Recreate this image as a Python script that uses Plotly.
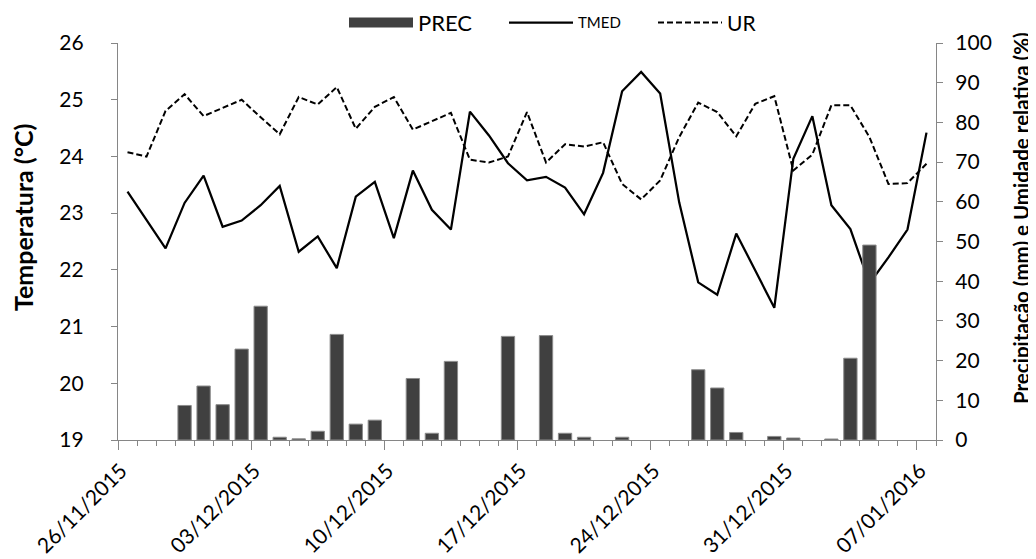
import pandas as pd
import plotly.graph_objects as go

dates = pd.date_range("2015-11-26", "2016-01-07", freq="D")

prec = [0, 0, 0, 8.7, 13.6, 8.9, 22.9, 33.7, 0.7, 0.3,
        2.2, 26.6, 4.0, 5.0, 0, 15.5, 1.7, 19.8, 0, 0,
        26.1, 0, 26.3, 1.7, 0.7, 0, 0.7, 0, 0, 0,
        17.7, 13.1, 1.9, 0, 0.9, 0.5, 0, 0.25, 20.6, 49.1,
        0, 0, 0]

tmed = [23.38, 22.88, 22.38, 23.18, 23.66, 22.76, 22.87, 23.14, 23.48, 22.32,
        22.59, 22.03, 23.29, 23.55, 22.56, 23.75, 23.06, 22.71, 24.79, 24.37,
        23.88, 23.58, 23.64, 23.45, 22.98, 23.71, 25.15, 25.49, 25.11, 23.19,
        21.78, 21.56, 22.64, 21.99, 21.33, 23.96, 24.71, 23.14, 22.72, 21.76,
        22.22, 22.71, 24.42]

ur = [72.5, 71.4, 82.9, 87.1, 81.6, 83.6, 85.7, 81.3, 77.0, 86.4,
      84.5, 88.9, 78.4, 83.9, 86.4, 78.2, 80.3, 82.4, 70.6, 69.9,
      71.4, 82.6, 69.9, 74.5, 73.9, 75.0, 64.5, 60.6, 65.4, 76.3,
      85.0, 82.6, 76.5, 84.7, 86.6, 67.9, 71.9, 84.3, 84.3, 76.3,
      64.5, 64.7, 69.6]

label_dates = dates[::7]
tick_labels = [d.strftime("%d/%m/%Y") for d in label_dates]
half_day = pd.Timedelta(hours=12)
tick_pos = [d - half_day for d in label_dates]

FONT = "Lato"
AXC = "#868686"
LEG_Y = 1.051

fig = go.Figure()

# legend-only entry for precipitation (wide box)
fig.add_trace(go.Scatter(x=[None], y=[None], mode="lines", name="PREC",
                         line=dict(color="#404040", width=12), yaxis="y2",
                         hoverinfo="skip", legend="legend"))
fig.add_trace(go.Bar(x=dates, y=prec, name="PREC", yaxis="y2", showlegend=False,
                     marker=dict(color="#404040",
                                 line=dict(color="#8c8c8c",
                                           width=[1 if v > 0 else 0 for v in prec]))))
fig.add_trace(go.Scatter(x=dates, y=tmed, mode="lines", name="TMED",
                         line=dict(color="black", width=2.25), legend="legend2"))
fig.add_trace(go.Scatter(x=dates, y=ur, mode="lines", name="UR", yaxis="y2",
                         line=dict(color="black", width=2, dash="6px,3px"),
                         legend="legend3"))

leg_common = dict(orientation="h", yanchor="middle", y=LEG_Y, xanchor="left",
                  itemwidth=64, bgcolor="rgba(0,0,0,0)")

fig.update_layout(
    width=1036, height=559,
    margin=dict(l=110, r=108, t=35, b=127, autoexpand=False),
    paper_bgcolor="white", plot_bgcolor="white",
    font=dict(family=FONT, size=21, color="black"),
    bargap=0.3,
    showlegend=True,
    legend=dict(x=(336 - 110) / 818, font=dict(size=22), **leg_common),
    legend2=dict(x=(496 - 110) / 818, font=dict(size=15), **leg_common),
    legend3=dict(x=(645 - 110) / 818, font=dict(size=21), **leg_common),
    xaxis=dict(type="date", range=["2015-11-25 12:00", "2016-01-07 12:00"],
               tickmode="array", tickvals=tick_pos, ticktext=tick_labels,
               ticklabelshift=3, tickangle=-45,
               ticks="outside", ticklen=9, tickcolor=AXC, tickwidth=1,
               minor=dict(ticks="outside", ticklen=5, tickcolor=AXC,
                          dtick=86400000, tick0="2015-11-25 12:00", showgrid=False),
               showline=True, linecolor=AXC, linewidth=1.3,
               showgrid=False, zeroline=False, automargin=False,
               tickfont=dict(size=21)),
    yaxis=dict(range=[19, 26], dtick=1, ticks="outside", ticklen=6, tickcolor=AXC,
               showline=True, linecolor=AXC, linewidth=1.3, showgrid=False,
               zeroline=False, ticklabelstandoff=23, automargin=False),
    yaxis2=dict(range=[0, 100], dtick=10, overlaying="y", side="right",
                ticks="outside", ticklen=6, tickcolor=AXC,
                showline=True, linecolor=AXC, linewidth=1.3, showgrid=False,
                zeroline=False, ticklabelstandoff=8, automargin=False),
    annotations=[
        dict(text="<b>Temperatura (°C)</b>", textangle=-90, xref="paper", yref="paper",
             x=(15 - 110) / 818, y=(432 - 210) / 397, xanchor="center", yanchor="middle",
             showarrow=False, font=dict(size=25)),
        dict(text="<b>Precipitação (mm) e Umidade relativa (%)</b>", textangle=-90,
             xref="paper", yref="paper", x=(1013 - 110) / 818, y=(432 - 210) / 397,
             xanchor="center", yanchor="middle", showarrow=False, font=dict(size=20.5)),
    ],
)

fig.write_html("out.html")
